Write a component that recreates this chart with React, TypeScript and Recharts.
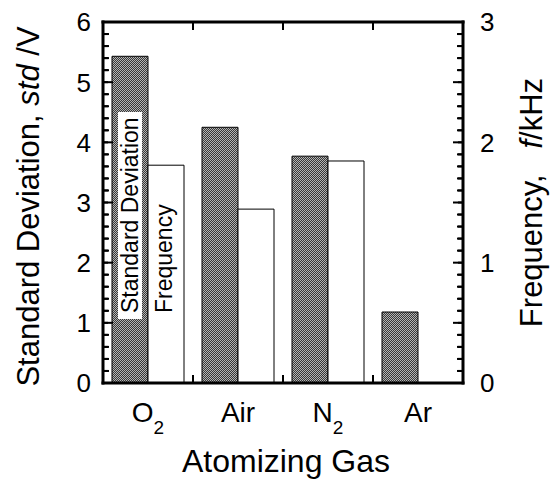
import { BarChart, Bar, XAxis, YAxis, Label } from 'recharts';

const FONT = '"Liberation Sans", Arial, Helvetica, sans-serif';

// atomizing gases, and the two measured quantities
const gases = ['O2', 'Air', 'N2', 'Ar'];
const stdDev = [5.43, 4.25, 3.77, 1.18]; // V
const frequency = [1.81, 1.445, 1.845, null]; // kHz, no value for Ar

// every tick of the frame; labels only at the whole numbers
const stdTicks = [
  0, 0.2, 0.4, 0.6, 0.8, 1, 1.2, 1.4, 1.6, 1.8, 2, 2.2, 2.4, 2.6, 2.8, 3,
  3.2, 3.4, 3.6, 3.8, 4, 4.2, 4.4, 4.6, 4.8, 5, 5.2, 5.4, 5.6, 5.8, 6,
];
const freqTicks = [
  0, 0.1, 0.2, 0.3, 0.4, 0.5, 0.6, 0.7, 0.8, 0.9, 1, 1.1, 1.2, 1.3, 1.4, 1.5,
  1.6, 1.7, 1.8, 1.9, 2, 2.1, 2.2, 2.3, 2.4, 2.5, 2.6, 2.7, 2.8, 2.9, 3,
];

const data = gases.map((gas, i) => ({ gas, std: stdDev[i], freq: frequency[i] }));

const frame = { stroke: '#000', strokeWidth: 3, strokeLinecap: 'square' as const };
const tickStroke = { stroke: '#000', strokeWidth: 2 };

const isMultiple = (v: number, step: number) =>
  Math.abs(v / step - Math.round(v / step)) < 1e-6;

const stdTick = (p: any) => {
  const x = Number(p.x);
  const y = Number(p.y);
  const v = p.payload.value;
  const major = isMultiple(v, 1);
  return (
    <g>
      <line x1={x} x2={x + (major ? 10 : 6)} y1={y} y2={y} stroke="#000" strokeWidth={2} />
      {major && (
        <text x={x - 12} y={y} dy="0.36em" textAnchor="end" fontSize={26} fontFamily={FONT} fill="#000">
          {v}
        </text>
      )}
    </g>
  );
};

const freqTick = (p: any) => {
  const x = Number(p.x);
  const y = Number(p.y);
  const v = p.payload.value;
  return (
    <g>
      <line x1={x} x2={x - (isMultiple(v, 0.5) ? 10 : 6)} y1={y} y2={y} stroke="#000" strokeWidth={2} />
      {isMultiple(v, 1) && (
        <text x={x + 17} y={y} dy="0.36em" textAnchor="start" fontSize={26} fontFamily={FONT} fill="#000">
          {v}
        </text>
      )}
    </g>
  );
};

// frame ticks sit on the borders between gas categories
const borderOffset = (p: any) => Number(p.width) / gases.length / 2;

const topTick = (p: any) => {
  if (p.index >= gases.length - 1) return <g />;
  const x = Number(p.x) + borderOffset(p);
  const y = Number(p.y);
  return <line x1={x} x2={x} y1={y} y2={y + 8} stroke="#000" strokeWidth={2} />;
};

const gasTick = (p: any) => {
  const x = Number(p.x);
  const y = Number(p.y);
  const m = /^(\D+)(\d*)$/.exec(p.payload.value) || ['', p.payload.value, ''];
  const bx = x + borderOffset(p);
  return (
    <g>
      {p.index < gases.length - 1 && (
        <line x1={bx} x2={bx} y1={y} y2={y - 8} stroke="#000" strokeWidth={2} />
      )}
      <text x={x} y={y + 39} textAnchor="middle" fontSize={28} fontFamily={FONT} fill="#000">
        {m[1]}
        {m[2] && (
          <tspan dy={12} fontSize={19}>
            {m[2]}
          </tspan>
        )}
      </text>
    </g>
  );
};

const StdInsideLabel = ({ x, y, width, height, index }: any) => {
  if (index !== 0) return null;
  const cx = x + width / 2;
  const bottom = y + height - 70;
  return (
    <g>
      <rect x={cx - 12} y={bottom - 201} width={24} height={207} fill="#fff" />
      <text
        x={cx + 8}
        y={bottom}
        transform={`rotate(-90 ${cx + 8} ${bottom})`}
        fontSize={23}
        fontFamily={FONT}
        fill="#000"
      >
        Standard Deviation
      </text>
    </g>
  );
};

const FreqInsideLabel = ({ x, y, width, height, index }: any) => {
  if (index !== 0) return null;
  const tx = x + width / 2 + 6;
  const ty = y + height - 70;
  return (
    <text x={tx} y={ty} transform={`rotate(-90 ${tx} ${ty})`} fontSize={23} fontFamily={FONT} fill="#000">
      Frequency
    </text>
  );
};

const LeftTitle = ({ viewBox }: any) => {
  const tx = viewBox.x + 39;
  const ty = viewBox.y + viewBox.height / 2 + 4;
  return (
    <text x={tx} y={ty} transform={`rotate(-90 ${tx} ${ty})`} textAnchor="middle" fontSize={31} fontFamily={FONT} fill="#000">
      Standard Deviation, <tspan fontStyle="italic">std</tspan> /V
    </text>
  );
};

const RightTitle = ({ viewBox }: any) => {
  const tx = viewBox.x + 79;
  const ty = viewBox.y + viewBox.height / 2;
  return (
    <text x={tx} y={ty} transform={`rotate(-90 ${tx} ${ty})`} textAnchor="middle" fontSize={31} fontFamily={FONT} fill="#000">
      Frequency,{'\u00a0\u00a0\u00a0'}<tspan fontStyle="italic">f</tspan>/kHz
    </text>
  );
};

const BottomTitle = ({ viewBox }: any) => (
  <text x={viewBox.x + viewBox.width / 2 + 3} y={viewBox.y + 89} textAnchor="middle" fontSize={32} fontFamily={FONT} fill="#000">
    Atomizing Gas
  </text>
);

export default function App() {
  return (
    <div style={{ position: 'absolute', left: 0, top: 0, background: '#fff' }}>
      <BarChart
        width={559}
        height={480}
        data={data}
        margin={{ top: 0, right: 0, bottom: 0, left: 0 }}
        barCategoryGap={9}
        barGap={0}
      >
        <defs>
          <pattern id="stipple" width={2} height={2} patternUnits="userSpaceOnUse">
            <rect width={2} height={2} fill="#383838" />
            <rect width={1} height={1} fill="#b4b4b4" />
            <rect x={1} y={1} width={1} height={1} fill="#b4b4b4" />
          </pattern>
        </defs>

        <XAxis
          xAxisId="catTop"
          dataKey="gas"
          orientation="top"
          height={22}
          interval={0}
          tickSize={0}
          tickMargin={0}
          tickLine={false}
          axisLine={frame}
          tick={topTick}
        />
        <XAxis
          xAxisId="cat"
          dataKey="gas"
          height={97}
          interval={0}
          tickSize={0}
          tickMargin={0}
          tickLine={false}
          axisLine={frame}
          tick={gasTick}
        >
          <Label content={<BottomTitle />} />
        </XAxis>

        <YAxis
          yAxisId="std"
          orientation="left"
          width={103}
          domain={[0, 6]}
          ticks={stdTicks}
          interval={0}
          tickSize={-5}
          tickMargin={5}
          tickLine={tickStroke}
          tick={stdTick}
          axisLine={frame}
        >
          <Label content={<LeftTitle />} />
        </YAxis>
        <YAxis
          yAxisId="freq"
          orientation="right"
          width={96}
          domain={[0, 3]}
          ticks={freqTicks}
          interval={0}
          tickSize={-5}
          tickMargin={5}
          tickLine={tickStroke}
          tick={freqTick}
          axisLine={frame}
        >
          <Label content={<RightTitle />} />
        </YAxis>

        <Bar
          xAxisId="cat"
          yAxisId="std"
          dataKey="std"
          fill="url(#stipple)"
          stroke="#000"
          strokeWidth={1}
          isAnimationActive={false}
          label={<StdInsideLabel />}
        />
        <Bar
          xAxisId="cat"
          yAxisId="freq"
          dataKey="freq"
          fill="#fff"
          stroke="#000"
          strokeWidth={1}
          isAnimationActive={false}
          label={<FreqInsideLabel />}
        />
      </BarChart>
    </div>
  );
}
